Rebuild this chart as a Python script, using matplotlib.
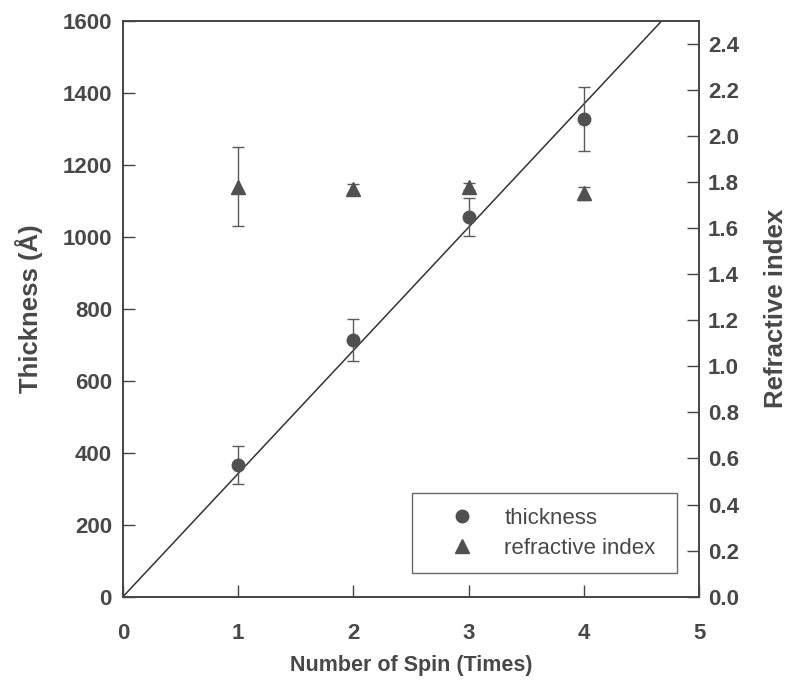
import numpy as np
import matplotlib
matplotlib.use("Agg")
import matplotlib.pyplot as plt
from matplotlib.lines import Line2D

plt.rcParams['font.family'] = ['Liberation Sans', 'DejaVu Sans']

spins = [1, 2, 3, 4]
thickness = [366, 713, 1055, 1326]
thickness_err = [52, 59, 52, 89]
refr = [1.78, 1.77, 1.78, 1.75]
refr_err = [0.17, 0.02, 0.015, 0.03]

x_ticks = [0, 1, 2, 3, 4, 5]
left_ticks = [0, 200, 400, 600, 800, 1000, 1200, 1400, 1600]
right_ticks = [0.0, 0.2, 0.4, 0.6, 0.8, 1.0, 1.2, 1.4, 1.6, 1.8, 2.0, 2.2, 2.4]

mc = '#505050'
tc = '#484848'

fig = plt.figure(figsize=(7.92, 6.89), dpi=100)
ax = fig.add_axes([0.1553, 0.1340, 0.7273, 0.8360])
ax2 = ax.twinx()

# linear fit through origin
xs = np.array(spins, float)
ys = np.array(thickness, float)
slope = (xs * ys).sum() / (xs * xs).sum()
xl = np.array([0, 5])
ax.plot(xl, slope * xl, color='#333333', lw=1.1, zorder=2)

ax.errorbar(spins, thickness, yerr=thickness_err, fmt='o', color=mc, ms=9,
            ecolor='#5a5a5a', elinewidth=1.0, capsize=4, capthick=1.0, zorder=3)
ax2.errorbar(spins, refr, yerr=refr_err, fmt='^', color=mc, ms=9.5,
             ecolor='#5a5a5a', elinewidth=1.0, capsize=4, capthick=1.0, zorder=3)

ax.set_xlim(0, 5)
ax.set_ylim(0, 1600)
ax2.set_ylim(0, 2.5)
ax.set_xticks(x_ticks)
ax.set_yticks(left_ticks)
ax2.set_yticks(right_ticks)
ax.set_xticklabels([str(v) for v in x_ticks])
ax.set_yticklabels([str(v) for v in left_ticks])
ax2.set_yticklabels([f'{v:.1f}' for v in right_ticks])

for a in (ax, ax2):
    a.tick_params(direction='in', length=8.5, width=1.0, color='#444444',
                  labelsize=16, labelcolor=tc)
    for s in a.spines.values():
        s.set_linewidth(1.2)
        s.set_color('#444444')
ax.tick_params(axis='x', pad=19)
ax.tick_params(axis='y', pad=8)
ax2.tick_params(axis='y', pad=6.5)
for lab in ax.get_xticklabels() + ax.get_yticklabels() + ax2.get_yticklabels():
    lab.set_fontweight('bold')

ax.set_xlabel('Number of Spin (Times)', fontsize=15.5, fontweight='bold', color=tc, labelpad=8)
ax.set_ylabel('Thickness (Å)', fontsize=18.5, fontweight='bold', color=tc, labelpad=14)
ax2.set_ylabel('Refractive index', fontsize=18.5, fontweight='bold', color=tc, labelpad=18)

handles = [Line2D([], [], ls='none', marker='o', color=mc, ms=9),
           Line2D([], [], ls='none', marker='^', color=mc, ms=9.5)]
labels = ['thickness', 'refractive index']
leg = ax2.legend(handles, labels, loc='lower left',
                 bbox_to_anchor=(0.5017, 0.041, 0.460, 0.14), mode='expand',
                 fontsize=16, frameon=True, fancybox=False, borderpad=0.65,
                 handlelength=3.2, handletextpad=0.3, labelspacing=0.4,
                 borderaxespad=0)
leg.get_frame().set_edgecolor('#444444')
leg.get_frame().set_linewidth(1.0)
for t in leg.get_texts():
    t.set_color(tc)

fig.savefig('out.png', dpi=100)
